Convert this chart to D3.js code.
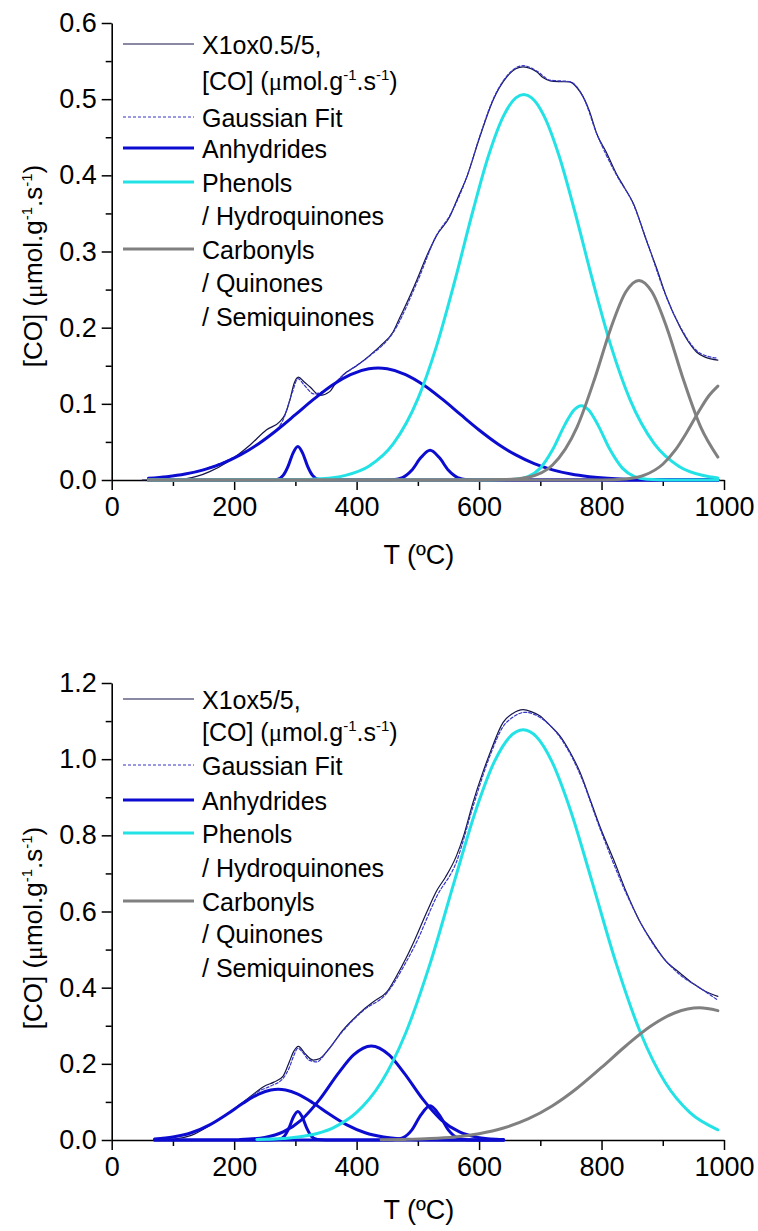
<!DOCTYPE html>
<html>
<head>
<meta charset="utf-8">
<script src="https://cdn.jsdelivr.net/npm/d3@7"></script>
<style>
  body { margin: 0; background: #fff; }
  svg text { font-family: Arial, "Liberation Sans", Helvetica, sans-serif; fill: #000; }
</style>
</head>
<body>
<svg id="chart" width="758" height="1231"></svg>
<script>
// ---- axis ticks ----
const xTicks = [0, 200, 400, 600, 800, 1000];
const xMinorTicks = [100, 300, 500, 700, 900];
const topYTicks = [0, 0.1, 0.2, 0.3, 0.4, 0.5, 0.6];
const topYMinorTicks = [0.05, 0.15, 0.25, 0.35, 0.45, 0.55];
const bottomYTicks = [0, 0.2, 0.4, 0.6, 0.8, 1.0, 1.2];
const bottomYMinorTicks = [0.1, 0.3, 0.5, 0.7, 0.9, 1.1];

// ---- legend labels ----
const topSampleName = "X1ox0.5/5,";
const bottomSampleName = "X1ox5/5,";
const fitLabel = ["Gaussian Fit"];
const anhLabel = ["Anhydrides"];
const pheLabel = ["Phenols", " / Hydroquinones"];
const carLabel = ["Carbonyls", "/ Quinones", "/ Semiquinones"];

// ---- top panel data: [T (ºC), [CO]] ----
const topMeasured = [[50,0],[100,0.001],[122,0.002],[140,0.005],[160,0.011],[190,0.024],[226,0.046],[253,0.066],[275,0.077],[283,0.086],[291,0.105],[298,0.127],[305,0.135],[314,0.129],[324,0.122],[340,0.111],[356,0.116],[364,0.125],[378,0.138],[400,0.150],[422,0.164],[440,0.177],[460,0.195],[471,0.214],[485,0.238],[498,0.262],[515,0.295],[531,0.3215],[552,0.3455],[565,0.37],[580,0.398],[601,0.45],[623,0.499],[645,0.529],[660,0.540],[672,0.5425],[685,0.540],[694,0.536],[705,0.528],[716,0.524],[730,0.523],[748,0.5227],[760,0.515],[770,0.503],[780,0.485],[792,0.455],[808,0.43],[824,0.4025],[838,0.383],[852,0.363],[873,0.315],[890,0.278],[906,0.2406],[928,0.201],[945,0.178],[955,0.168],[970,0.161],[990,0.1575]];
const topFit = [[60,0.002],[100,0.005],[150,0.014],[200,0.030],[250,0.054],[280,0.079],[295,0.115],[304,0.133],[315,0.124],[330,0.113],[350,0.118],[380,0.139],[420,0.162],[460,0.194],[500,0.262],[531,0.322],[552,0.347],[580,0.398],[601,0.451],[623,0.500],[645,0.530],[672,0.544],[694,0.537],[716,0.525],[748,0.523],[770,0.503],[792,0.455],[824,0.401],[852,0.362],[873,0.316],[906,0.240],[928,0.202],[955,0.170],[975,0.162],[990,0.160]];
const topAnh1 = [[60,0.0023],[90,0.0044],[120,0.0078],[150,0.0133],[180,0.0215],[210,0.0329],[240,0.0477],[270,0.0657],[300,0.0857],[330,0.1061],[360,0.1245],[390,0.1385],[420,0.146],[435,0.147],[450,0.146],[480,0.1385],[510,0.1245],[540,0.1061],[570,0.0857],[600,0.0657],[630,0.0477],[660,0.0329],[690,0.0215],[720,0.0133],[750,0.0078],[780,0.0044],[810,0.0023],[840,0.0011],[870,0.0005],[900,0.0002],[930,0.0001],[960,0],[990,0]];
const topAnh2 = [[60,0],[250,0],[270,0.0008],[280,0.006],[288,0.018],[296,0.035],[304,0.044],[312,0.035],[320,0.018],[328,0.006],[338,0.0008],[355,0],[990,0]];
const topAnh3 = [[60,0],[440,0],[460,0.0004],[475,0.0031],[490,0.0127],[505,0.0294],[520,0.039],[535,0.0294],[550,0.0127],[565,0.0031],[580,0.0004],[600,0],[990,0]];
const topPhe1 = [[60,0],[300,0.0004],[340,0.0016],[380,0.0058],[420,0.0181],[460,0.0477],[500,0.1065],[530,0.1745],[560,0.2603],[590,0.3535],[615,0.4247],[640,0.4781],[660,0.5016],[673,0.506],[686,0.5016],[706,0.4781],[731,0.4247],[756,0.3535],[786,0.2603],[816,0.1745],[846,0.1065],[886,0.0477],[926,0.0181],[966,0.0058],[990,0.0027]];
const topPhe2 = [[60,0],[620,0],[660,0.0009],[680,0.0044],[700,0.0156],[720,0.0396],[740,0.0724],[755,0.0919],[767,0.0975],[779,0.0919],[794,0.0724],[814,0.0396],[834,0.0156],[854,0.0044],[874,0.0009],[910,0],[990,0]];
const topCar1 = [[60,0],[600,0],[640,0.0005],[680,0.0037],[720,0.0197],[760,0.0695],[790,0.136],[815,0.199],[840,0.2474],[861,0.262],[882,0.2474],[907,0.199],[932,0.136],[962,0.0695],[990,0.0301]];
const topCar2 = [[60,0],[800,0.0001],[840,0.0014],[870,0.0063],[900,0.0207],[920,0.0388],[940,0.0637],[960,0.0916],[975,0.1103],[990,0.1233]];

// ---- bottom panel data ----
const bottomMeasured = [[70,0],[100,0.002],[130,0.012],[160,0.038],[190,0.07],[215,0.1],[235,0.125],[250,0.142],[265,0.152],[280,0.168],[290,0.205],[297,0.232],[305,0.246],[315,0.228],[329,0.21],[340,0.214],[360,0.25],[378,0.289],[395,0.318],[411,0.342],[430,0.366],[449,0.388],[465,0.43],[480,0.475],[495,0.526],[515,0.60],[531,0.655],[545,0.69],[563,0.746],[575,0.80],[590,0.886],[605,0.96],[618,1.017],[639,1.096],[655,1.12],[672,1.13],[685,1.125],[699,1.114],[715,1.09],[732,1.061],[748,1.02],[765,0.965],[780,0.9],[797,0.8245],[820,0.735],[841,0.649],[862,0.575],[884,0.5175],[905,0.47],[928,0.4386],[950,0.41],[970,0.39],[990,0.377]];
const bottomFit = [[70,0.003],[100,0.008],[130,0.019],[160,0.04],[190,0.07],[215,0.099],[240,0.128],[260,0.142],[280,0.162],[290,0.19],[297,0.22],[304,0.241],[312,0.23],[322,0.21],[335,0.205],[350,0.23],[378,0.287],[411,0.34],[449,0.385],[480,0.465],[495,0.51],[531,0.64],[563,0.73],[590,0.875],[618,1.01],[639,1.085],[655,1.11],[675,1.123],[699,1.11],[732,1.058],[765,0.96],[797,0.82],[841,0.645],[884,0.515],[928,0.434],[960,0.40],[990,0.367]];
const bottomAnh1 = [[70,0.0026],[100,0.0077],[130,0.019],[160,0.0397],[190,0.0695],[215,0.0972],[240,0.1205],[260,0.1312],[272,0.133],[284,0.1312],[304,0.1205],[329,0.0972],[354,0.0695],[384,0.0397],[414,0.019],[444,0.0077],[474,0.0026],[510,0.0006],[560,0],[640,0]];
const bottomAnh2 = [[70,0],[260,0],[272,0.0011],[282,0.0101],[290,0.0332],[297,0.0609],[304,0.0746],[311,0.0609],[318,0.0332],[326,0.0101],[336,0.0011],[350,0],[640,0]];
const bottomAnh3 = [[210,0.0011],[250,0.0069],[280,0.0212],[310,0.0531],[340,0.1072],[370,0.1749],[395,0.2236],[424,0.247],[453,0.2236],[478,0.1749],[508,0.1072],[538,0.0531],[568,0.0212],[598,0.0069],[628,0.0018],[640,0.001]];
const bottomAnh4 = [[70,0],[440,0],[460,0.0006],[475,0.0054],[490,0.0259],[505,0.0659],[520,0.09],[535,0.0659],[550,0.0259],[565,0.0054],[580,0.0006],[600,0],[640,0]];
const bottomPhe1 = [[237,0.0011],[280,0.0039],[320,0.0117],[360,0.0308],[400,0.0723],[440,0.1508],[480,0.2803],[520,0.4631],[560,0.6811],[595,0.8673],[625,0.9935],[650,1.0582],[672,1.077],[694,1.0582],[719,0.9935],[749,0.8673],[784,0.6811],[824,0.4631],[864,0.2803],[904,0.1508],[944,0.0723],[990,0.0268]];
const bottomCar1 = [[440,0.0006],[480,0.0016],[520,0.0037],[560,0.0081],[600,0.0166],[640,0.0314],[680,0.0552],[720,0.0899],[760,0.1358],[800,0.1904],[840,0.2475],[880,0.2986],[920,0.3342],[960,0.347],[990,0.3397]];

// ---- styles ----
const FONT = 'Arial, "Liberation Sans", Helvetica, sans-serif';
const SERIF = '"Liberation Serif", "Times New Roman", serif';
const styles = {
  measured: { color: "#15154a", width: 1.2, dash: null },
  fit: { color: "#3535c8", width: 1.2, dash: "3,2" },
  anh: { color: "#0c0cd0", width: 3, dash: null },
  phe: { color: "#22e2e6", width: 3, dash: null },
  car: { color: "#808080", width: 3, dash: null }
};

const panels = [
  {
    sample: topSampleName, measured: topMeasured, fit: topFit,
    anh: [topAnh1, topAnh2, topAnh3], phe: [topPhe1, topPhe2], car: [topCar1, topCar2],
    yTicks: topYTicks, yMinor: topYMinorTicks, yMax: 0.6,
    top: 23, bottom: 480,
    rows: [54, 90, 127, 158, 192, 225, 259, 292, 326],
    yLabelY: 266, xLabelY: 564
  },
  {
    sample: bottomSampleName, measured: bottomMeasured, fit: bottomFit,
    anh: [bottomAnh1, bottomAnh2, bottomAnh3, bottomAnh4], phe: [bottomPhe1], car: [bottomCar1],
    yTicks: bottomYTicks, yMinor: bottomYMinorTicks, yMax: 1.2,
    top: 683, bottom: 1140,
    rows: [709, 741, 775, 810, 843, 877, 911, 943, 977],
    yLabelY: 928, xLabelY: 1219
  }
];

var svg = d3.select("#chart");
var x = d3.scaleLinear().domain([0, 1000]).range([111.7, 724]);

// writes "[CO] (µmol.g-1.s-1)" into a text element
function unitText(t) {
  t.append("tspan").text("[CO] (");
  t.append("tspan").attr("font-family", SERIF).text("\u03bc");
  t.append("tspan").text("mol.g");
  t.append("tspan").attr("font-size", 15).attr("dy", -10).text("-1");
  t.append("tspan").attr("dy", 10).text(".s");
  t.append("tspan").attr("font-size", 15).attr("dy", -10).text("-1");
  t.append("tspan").attr("dy", 10).text(")");
}

function styleAxis(g) {
  g.selectAll("text").attr("font-size", 27).attr("font-family", FONT).attr("fill", "#000");
  g.selectAll("line").attr("stroke", "#000").attr("stroke-width", 1.5);
  g.select(".domain").attr("stroke", "#000").attr("stroke-width", 1.6);
}

panels.forEach(function (p) {
  var y = d3.scaleLinear().domain([0, p.yMax]).range([p.bottom, p.top]);
  var g = svg.append("g");

  // axes
  g.append("g")
    .attr("transform", "translate(0," + p.bottom + ")")
    .call(d3.axisBottom(x).tickValues(xTicks).tickSize(10).tickSizeOuter(0).tickPadding(7).tickFormat(d3.format("d")))
    .call(styleAxis);
  g.append("g")
    .attr("transform", "translate(0," + p.bottom + ")")
    .call(d3.axisBottom(x).tickValues(xMinorTicks).tickSize(6).tickFormat(""))
    .call(styleAxis)
    .select(".domain").remove();
  g.append("g")
    .attr("transform", "translate(" + x(0) + ",0)")
    .call(d3.axisLeft(y).tickValues(p.yTicks).tickSize(10).tickSizeOuter(0).tickPadding(5).tickFormat(d3.format(".1f")))
    .call(styleAxis);
  g.append("g")
    .attr("transform", "translate(" + x(0) + ",0)")
    .call(d3.axisLeft(y).tickValues(p.yMinor).tickSize(6).tickFormat(""))
    .call(styleAxis)
    .select(".domain").remove();

  // axis titles
  g.append("text")
    .attr("x", x(500) + 1)
    .attr("y", p.xLabelY)
    .attr("text-anchor", "middle")
    .attr("font-size", 27)
    .text("T (\u00baC)");
  var yl = g.append("text")
    .attr("transform", "translate(42," + p.yLabelY + ") rotate(-90)")
    .attr("text-anchor", "middle")
    .attr("font-size", 26);
  unitText(yl);

  // curves
  var line = d3.line()
    .x(d => x(d[0]))
    .y(d => y(d[1]))
    .curve(d3.curveMonotoneX);

  function draw(data, key) {
    var s = styles[key];
    g.append("path")
      .datum(data)
      .attr("d", line)
      .attr("fill", "none")
      .attr("stroke", s.color)
      .attr("stroke-width", s.width)
      .attr("stroke-dasharray", s.dash)
      .attr("stroke-linejoin", "round")
      .attr("stroke-linecap", "round");
  }
  draw(p.measured, "measured");
  draw(p.fit, "fit");
  p.anh.forEach(d => draw(d, "anh"));
  p.phe.forEach(d => draw(d, "phe"));
  p.car.forEach(d => draw(d, "car"));

  // legend
  var entries = [
    { key: "measured", lines: [p.sample, null] },
    { key: "fit", lines: fitLabel },
    { key: "anh", lines: anhLabel },
    { key: "phe", lines: pheLabel },
    { key: "car", lines: carLabel }
  ];
  var row = 0;
  entries.forEach(function (e) {
    var s = styles[e.key];
    var base = p.rows[row];
    g.append("line")
      .attr("x1", 123).attr("x2", 194)
      .attr("y1", base - 10).attr("y2", base - 10)
      .attr("stroke", s.color)
      .attr("stroke-width", e.key === "measured" || e.key === "fit" ? 1.2 : 3)
      .attr("stroke-dasharray", s.dash);
    e.lines.forEach(function (txt) {
      var t = g.append("text")
        .attr("x", 202)
        .attr("y", p.rows[row])
        .attr("font-size", 25)
        .attr("fill", e.key === "fit" ? "#1010e0" : "#000");
      if (txt === null) unitText(t);
      else t.text(txt);
      row++;
    });
  });
});
</script>
</body>
</html>
